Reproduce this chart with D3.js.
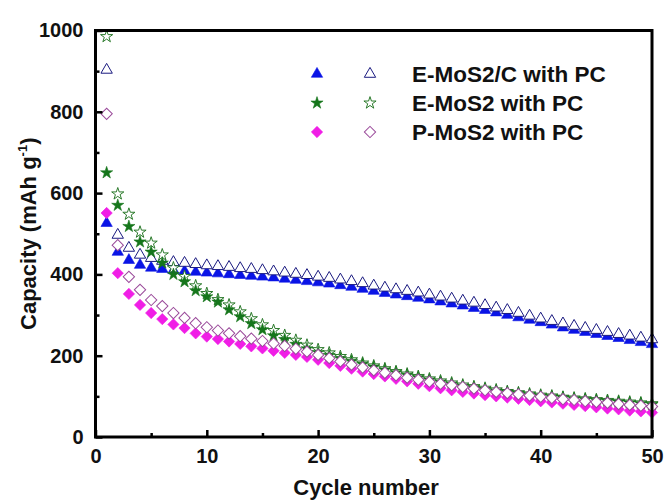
<!DOCTYPE html>
<html>
<head>
<meta charset="utf-8">
<script src="https://cdn.jsdelivr.net/npm/d3@7"></script>
<style>
  html, body { margin: 0; padding: 0; background: #fff; }
  svg { display: block; font-family: "Liberation Sans", Arial, Helvetica, sans-serif; font-weight: bold; }
</style>
</head>
<body>
<svg id="chart" width="665" height="500"></svg>
<script>
// Cycle index 1..50
const cycles = d3.range(1, 51);

// E-MoS2/C with PC
const emoscFilled = [526,455,435,423,416,413,410,408,406,404,402,400,398,396,394,392,389,386,383,380,
  377,373,369,364,359,354,350,346,342,338,333,328,323,317,312,306,300,294,288,282,
  276,269,263,258,253,248,243,238,233,228];
const emoscOpen = [903,497,465,448,440,433,430,428,425,422,420,418,415,413,410,407,404,401,398,394,
  391,387,383,378,372,367,363,359,355,350,345,340,335,330,324,318,312,305,298,291,
  285,279,273,268,263,258,253,249,244,240];

// E-MoS2 with PC
const emosFilled = [650,570,518,480,455,428,400,382,360,345,332,313,296,279,264,249,240,228,217,208,
  201,193,186,179,172,165,158,152,146,140,135,130,125,121,117,113,110,107,104,101,
  99,97,94,92,90,88,86,84,82,80];
const emosOpen = [985,598,548,504,477,448,416,395,372,353,338,325,308,291,276,262,250,238,226,215,
  207,198,190,182,175,168,161,155,149,143,138,133,128,124,120,116,112,109,106,103,
  101,98,96,94,92,90,88,86,84,82];

// P-MoS2 with PC
const pmosFilled = [551,403,352,325,305,290,277,268,255,247,241,235,229,223,218,212,207,202,197,190,
  182,175,168,161,155,149,143,137,131,125,120,115,111,107,103,100,97,94,91,88,
  85,82,79,76,73,70,68,65,63,60];
const pmosOpen = [795,472,394,362,337,322,305,293,280,270,262,255,248,242,236,230,224,217,210,202,
  194,186,178,171,164,158,152,146,141,136,131,127,123,119,115,111,108,105,102,99,
  96,93,91,88,86,84,81,79,77,75];

const xMajorTicks = [0, 10, 20, 30, 40, 50];
const xMinorTicks = [5, 15, 25, 35, 45];
const yMajorTicks = [0, 200, 400, 600, 800, 1000];
const yMinorTicks = [100, 300, 500, 700, 900];

const legendLabels = ["E-MoS2/C with PC", "E-MoS2 with PC", "P-MoS2 with PC"];

const svg = d3.select("#chart");
const plotLeft = 95.5, plotRight = 652, plotTop = 30.5, plotBottom = 437;

const x = d3.scaleLinear().domain([0, 50]).range([plotLeft, plotRight]);
const y = d3.scaleLinear().domain([0, 1000]).range([plotBottom, plotTop]);

// Marker shapes
const triPath = d3.symbol().type(d3.symbolTriangle).size(56)();
const starPath = d3.symbol().type(d3.symbolStar).size(46)();
const diaPath = d3.symbol().type(d3.symbolSquare).size(64)();

const series = [
  { values: emoscFilled, path: triPath, rot: 0, fill: "#0a14e6", stroke: "#0a14e6", sw: 0.6 },
  { values: emoscOpen,   path: triPath, rot: 0, fill: "#ffffff", stroke: "#1a1a80", sw: 1 },
  { values: emosOpen,    path: starPath, rot: 0, fill: "#ffffff", stroke: "#2b7a2b", sw: 1 },
  { values: emosFilled,  path: starPath, rot: 0, fill: "#15761b", stroke: "#15761b", sw: 0.6 },
  { values: pmosFilled,  path: diaPath, rot: 45, fill: "#f01ee6", stroke: "#f01ee6", sw: 0.6 },
  { values: pmosOpen,    path: diaPath, rot: 45, fill: "#ffffff", stroke: "#9a4a9a", sw: 1 }
];

const plot = svg.append("g");
series.forEach(s => {
  plot.append("g").selectAll("path")
    .data(cycles.map((c, i) => [c, s.values[i]]))
    .join("path")
    .attr("d", s.path)
    .attr("transform", d => `translate(${x(d[0])},${y(d[1])}) rotate(${s.rot})`)
    .attr("fill", s.fill)
    .attr("stroke", s.stroke)
    .attr("stroke-width", s.sw);
});

// Axes with inward ticks
const fontSize = 20;
svg.append("g").attr("transform", `translate(0,${plotBottom})`)
  .call(d3.axisBottom(x).tickValues(xMajorTicks).tickSize(-7).tickPadding(12).tickFormat(d3.format("d")));
svg.append("g").attr("transform", `translate(0,${plotBottom})`)
  .call(d3.axisBottom(x).tickValues(xMinorTicks).tickSize(-4).tickFormat(""));
svg.append("g").attr("transform", `translate(${plotLeft},0)`)
  .call(d3.axisLeft(y).tickValues(yMajorTicks).tickSize(-7).tickPadding(12).tickFormat(d3.format("d")));
svg.append("g").attr("transform", `translate(${plotLeft},0)`)
  .call(d3.axisLeft(y).tickValues(yMinorTicks).tickSize(-4).tickFormat(""));

svg.selectAll(".domain").remove();
svg.selectAll(".tick line").attr("stroke", "#000").attr("stroke-width", 2.5);
svg.selectAll(".tick text")
  .attr("fill", "#111")
  .style("font-size", fontSize + "px")
  .style("font-weight", "bold")
  .style("font-family", "'Liberation Sans', Arial, sans-serif");

// Frame
svg.append("rect")
  .attr("x", plotLeft).attr("y", plotTop)
  .attr("width", plotRight - plotLeft).attr("height", plotBottom - plotTop)
  .attr("fill", "none").attr("stroke", "#000").attr("stroke-width", 3);

// Axis titles
svg.append("text")
  .attr("x", 366).attr("y", 495)
  .attr("text-anchor", "middle")
  .style("font-size", "22px")
  .attr("fill", "#111")
  .text("Cycle number");

const yTitle = svg.append("text")
  .attr("transform", `translate(36,${(plotTop + plotBottom) / 2}) rotate(-90)`)
  .attr("text-anchor", "middle")
  .style("font-size", "22px")
  .attr("fill", "#111");
yTitle.append("tspan").text("Capacity (mAh g");
yTitle.append("tspan").attr("dy", -9).style("font-size", "13px").text("-1");
yTitle.append("tspan").attr("dy", 9).text(")");

// Legend
const legendRows = [
  { filled: series[0], open: series[1] },
  { filled: series[3], open: series[2] },
  { filled: series[4], open: series[5] }
];
const rowY = [74, 103, 132];
legendRows.forEach((r, i) => {
  const g = svg.append("g").attr("transform", `translate(0,${rowY[i]})`);
  g.append("path").attr("d", r.filled.path)
    .attr("transform", `translate(317,0) rotate(${r.filled.rot})`)
    .attr("fill", r.filled.fill).attr("stroke", r.filled.stroke).attr("stroke-width", r.filled.sw);
  g.append("path").attr("d", r.open.path)
    .attr("transform", `translate(370,0) rotate(${r.open.rot})`)
    .attr("fill", r.open.fill).attr("stroke", r.open.stroke).attr("stroke-width", r.open.sw);
  g.append("text").attr("x", 412).attr("y", 8)
    .style("font-size", "22.5px").attr("fill", "#111")
    .text(legendLabels[i]);
});
</script>
</body>
</html>
